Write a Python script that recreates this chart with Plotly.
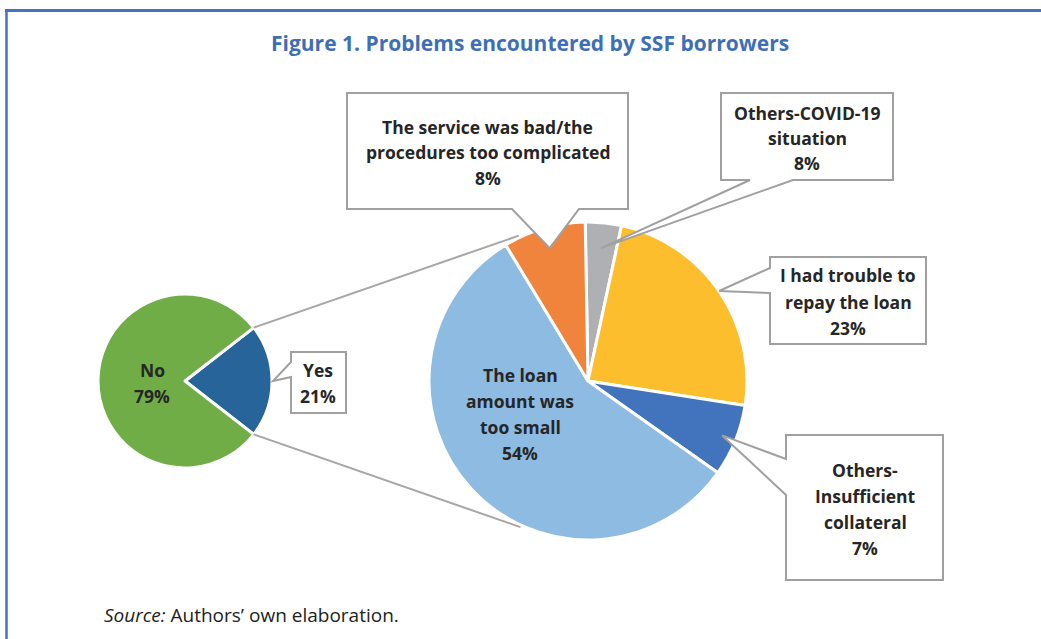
import math
import plotly.graph_objects as go

W, H = 1041, 639

# ---- data ----
outer_labels = ["Yes", "No"]
outer_values = [21, 79]
outer_colors = ["#26649A", "#70AD47"]

inner_labels = ["Others-COVID-19 situation", "I had trouble to repay the loan",
                "Others-Insufficient collateral", "The loan amount was too small",
                "The service was bad/the procedures too complicated"]
inner_values = [3.5, 23, 7, 54, 8]          # slice shares as drawn
inner_pct_text = ["8%", "23%", "7%", "54%", "8%"]  # printed labels
inner_colors = ["#AFB0B3", "#FCBE2C", "#4274BE", "#8DBBE2", "#F0843C"]

title = "Figure 1. Problems encountered by SSF borrowers"

# ---- geometry (pixels) ----
L_CX, L_CY, L_R = 185, 381, 87
R_CX, R_CY, R_R = 588, 381, 159
yes_frac = outer_values[0] / sum(outer_values)
outer_rot = 90 - yes_frac * 360 / 2
inner_rot = -1


def px2paper_x(x):
    return x / W


def px2paper_y(y):
    return 1 - y / H


def polar(cx, cy, r, ang):
    a = math.radians(ang)
    return cx + r * math.sin(a), cy - r * math.cos(a)


def mid_angles(values, rot):
    tot = sum(values)
    out, cur = [], rot
    for v in values:
        span = v / tot * 360
        out.append(cur + span / 2)
        cur += span
    return out


fig = go.Figure()
fig.add_trace(go.Pie(
    labels=outer_labels, values=outer_values, sort=False, direction="clockwise",
    rotation=outer_rot, textinfo="none", hoverinfo="skip", showlegend=False,
    marker=dict(colors=outer_colors, line=dict(color="white", width=3)),
    domain=dict(x=[px2paper_x(L_CX - L_R), px2paper_x(L_CX + L_R)],
                y=[px2paper_y(L_CY + L_R), px2paper_y(L_CY - L_R)]),
))
fig.add_trace(go.Pie(
    labels=inner_labels, values=inner_values, sort=False, direction="clockwise",
    rotation=inner_rot, textinfo="none", hoverinfo="skip", showlegend=False,
    marker=dict(colors=inner_colors, line=dict(color="white", width=3)),
    domain=dict(x=[px2paper_x(R_CX - R_R), px2paper_x(R_CX + R_R)],
                y=[px2paper_y(R_CY + R_R), px2paper_y(R_CY - R_R)]),
))

shapes = []
annotations = []
GREY = "#A6A6A6"
TXT = "#262626"
FONT = "Open Sans"
LBL = 17.5

# connector lines between the pies
y_start = outer_rot
y_end = outer_rot + yes_frac * 360
for a_left, a_right in [(y_start, 334.5), (y_end, 204.8)]:
    x0, y0 = polar(L_CX, L_CY, L_R, a_left)
    x1, y1 = polar(R_CX, R_CY, R_R + 2, a_right)
    shapes.append(dict(type="line", xref="x", yref="y", x0=x0, y0=y0, x1=x1, y1=y1,
                       line=dict(color=GREY, width=2)))

mids = mid_angles(inner_values, inner_rot)


def callout(box, side, base, tip):
    x0, y0, x1, y1 = box
    tx, ty = tip
    if side == "bottom":
        b0, b1 = base
        p = [(x0, y0), (x1, y0), (x1, y1), (b1, y1), (tx, ty), (b0, y1), (x0, y1)]
    else:  # left
        b0, b1 = base
        p = [(x0, y0), (x1, y0), (x1, y1), (x0, y1), (x0, b1), (tx, ty), (x0, b0)]
    path = "M " + " L ".join(f"{a:.1f},{b:.1f}" for a, b in p) + " Z"
    shapes.append(dict(type="path", xref="x", yref="y", path=path,
                       fillcolor="white", line=dict(color="#A0A0A0", width=2)))


def text_block(cx, cy, lines, spacing=25.5, size=LBL):
    n = len(lines)
    for i, t in enumerate(lines):
        annotations.append(dict(
            x=cx, y=cy + (i - (n - 1) / 2) * spacing, xref="x", yref="y",
            text=f"<b>{t}</b>", showarrow=False, xanchor="center", yanchor="middle",
            font=dict(family=FONT, size=size, color=TXT)))


# callouts for the inner pie
tip_frac = [0.84, 1.0, 0.91, None, 0.87]
# service (orange, index 4)
callout((347, 93, 628, 209), "bottom", (512, 579), polar(R_CX, R_CY, R_R * tip_frac[4], mids[4]))
text_block(487.5, 152, ["The service was bad/the", "procedures too complicated", inner_pct_text[4]])
# covid (grey, index 0)
callout((721, 93, 893, 180), "bottom", (750, 793), polar(R_CX, R_CY, R_R * tip_frac[0], mids[0]))
text_block(807, 138, ["Others-COVID-19", "situation", inner_pct_text[0]], spacing=25)
# trouble (yellow, index 1)
callout((770, 257, 926, 344), "left", (268, 293), polar(R_CX, R_CY, R_R * tip_frac[1], mids[1]))
text_block(848, 301.5, ["I had trouble to", "repay the loan", inner_pct_text[1]], spacing=26.5)
# collateral (blue, index 2)
callout((786, 435, 943, 580), "left", (459, 495), polar(R_CX, R_CY, R_R * tip_frac[2], mids[2]))
text_block(865, 509, ["Others-", "Insufficient", "collateral", inner_pct_text[2]], spacing=26)
# loan amount (inside)
text_block(520, 414, ["The loan", "amount was", "too small", inner_pct_text[3]], spacing=25.7)

# outer pie labels
callout((291, 352, 346, 413), "left", (362, 377), polar(L_CX, L_CY, L_R + 1, 90))
text_block(318, 383, ["Yes", f"{outer_values[0]}%"], spacing=26)
text_block(152, 383, ["No", f"{outer_values[1]}%"], spacing=26)

# title
annotations.append(dict(x=530, y=43, xref="x", yref="y", text=f"<b>{title}</b>",
                        showarrow=False, xanchor="center", yanchor="middle",
                        font=dict(family=FONT, size=21, color="#3E6FB6")))
# source
annotations.append(dict(x=102, y=615, xref="x", yref="y",
                        text="<i>Source:</i> Authors’ own elaboration.",
                        showarrow=False, xanchor="left", yanchor="middle",
                        font=dict(family=FONT, size=19, color="#222222")))

# frame
shapes.append(dict(type="line", xref="x", yref="y", x0=5, y0=10.5, x1=W, y1=10.5,
                   line=dict(color="#4472C4", width=3)))
shapes.append(dict(type="line", xref="x", yref="y", x0=6.5, y0=9, x1=6.5, y1=H,
                   line=dict(color="#4472C4", width=2.5)))

fig.update_layout(
    width=W, height=H, margin=dict(l=0, r=0, t=0, b=0),
    paper_bgcolor="white", plot_bgcolor="rgba(0,0,0,0)",
    xaxis=dict(range=[0, W], visible=False, fixedrange=True),
    yaxis=dict(range=[H, 0], visible=False, fixedrange=True),
    shapes=shapes, annotations=annotations, showlegend=False,
)

fig.write_html("out.html")
